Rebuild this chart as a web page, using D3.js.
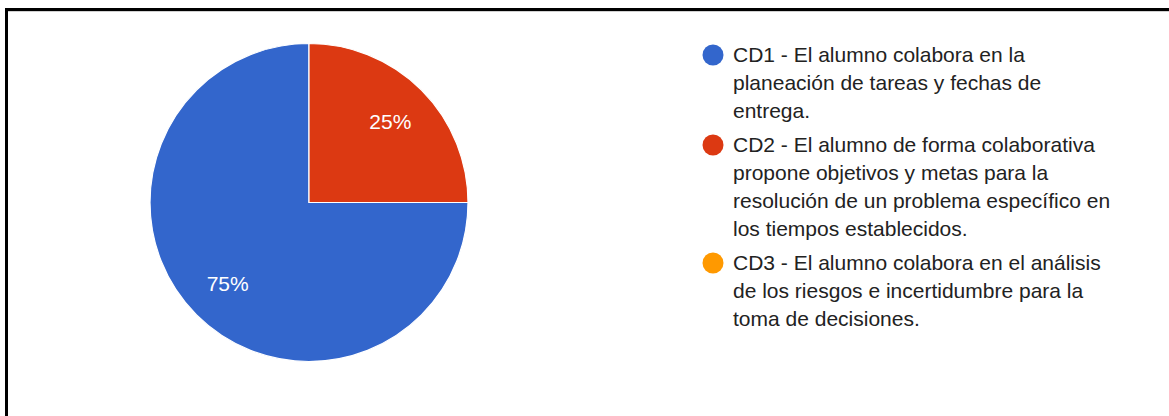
<!DOCTYPE html>
<html>
<head>
<meta charset="utf-8">
<script src="https://cdn.jsdelivr.net/npm/d3@7"></script>
<style>
  html, body { margin: 0; padding: 0; background: #fff; }
  svg { display: block; }
</style>
</head>
<body>
<svg id="chart" width="1169" height="416"></svg>
<script>
// ---- Data ----
const categories = ["CD1", "CD2", "CD3"];
const values = [75, 25, 0];
const percentLabels = ["75%", "25%", "0%"];
const legendLines = [
  ["CD1 - El alumno colabora en la", "planeación de tareas y fechas de", "entrega."],
  ["CD2 - El alumno de forma colaborativa", "propone objetivos y metas para la", "resolución de un problema específico en", "los tiempos establecidos."],
  ["CD3 - El alumno colabora en el análisis", "de los riesgos e incertidumbre para la", "toma de decisiones."]
];
const colors = ["#3366cc", "#dc3912", "#ff9900"];

// ---- Layout ----
const W = 1169, H = 416;
const svg = d3.select("#chart");
const font = "Liberation Sans, Arial, sans-serif";

// frame (top & left edges visible)
svg.append("rect").attr("x", 5).attr("y", 8).attr("width", W).attr("height", 3).attr("fill", "#000");
svg.append("rect").attr("x", 5).attr("y", 8).attr("width", 3).attr("height", H).attr("fill", "#000");
svg.append("rect").attr("x", 8).attr("y", 11).attr("width", W).attr("height", 1).attr("fill", "#d0d0d0");

const cx = 309, cy = 202.5, R = 159;
const color = d3.scaleOrdinal().domain(categories).range(colors);

const pie = d3.pie().sort(null).value(d => d.v)
  .startAngle(Math.PI / 2).endAngle(Math.PI * 2.5);
const data = categories.map((c, i) => ({ c, v: values[i], label: percentLabels[i] }));
const arcs = pie(data);
const arc = d3.arc().innerRadius(0).outerRadius(R);
const labelArc = d3.arc().innerRadius(115).outerRadius(115);

const g = svg.append("g").attr("transform", `translate(${cx},${cy})`);
g.selectAll("path.slice").data(arcs.filter(a => a.data.v > 0)).join("path")
  .attr("class", "slice")
  .attr("d", arc)
  .attr("fill", d => color(d.data.c))
  .attr("stroke", "#fff")
  .attr("stroke-width", 1.2);

g.selectAll("text.pl").data(arcs.filter(a => a.data.v > 0)).join("text")
  .attr("class", "pl")
  .attr("x", d => labelArc.centroid(d)[0])
  .attr("y", d => labelArc.centroid(d)[1])
  .attr("dy", "0.36em")
  .attr("text-anchor", "middle")
  .attr("font-family", font)
  .attr("font-size", 21)
  .attr("fill", "#fff")
  .text(d => d.data.label);

// ---- Legend ----
const lineH = 28, entryGap = 6;
const legendX = 713, textX = 733, firstBaseline = 62.3;
let baseline = firstBaseline;
const lg = svg.append("g");
legendLines.forEach((lines, i) => {
  const eg = lg.append("g");
  eg.append("circle")
    .attr("cx", legendX)
    .attr("cy", baseline - 7.3)
    .attr("r", 10.5)
    .attr("fill", color(categories[i]));
  const t = eg.append("text")
    .attr("font-family", font)
    .attr("font-size", 21)
    .attr("fill", "#222");
  lines.forEach((ln, j) => {
    t.append("tspan").attr("x", textX).attr("y", baseline + j * lineH).text(ln);
  });
  baseline += lines.length * lineH + entryGap;
});
</script>
</body>
</html>
